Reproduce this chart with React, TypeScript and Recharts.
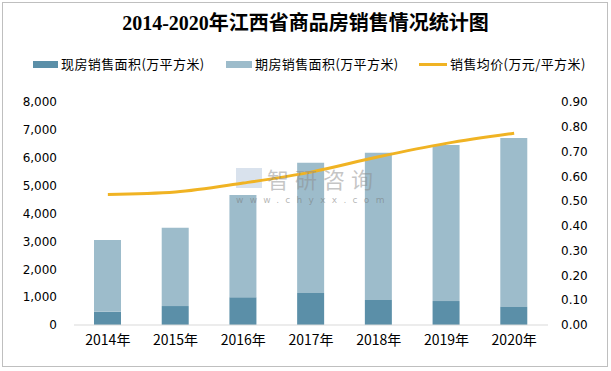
import { ComposedChart, Bar, Line, XAxis, YAxis } from "recharts";

/* ─── Data ──────────────────────────────────────────────────── */

const years = ["2014年", "2015年", "2016年", "2017年", "2018年", "2019年", "2020年"];
// 现房销售面积 (万平方米)
const existingArea = [480, 680, 1000, 1150, 900, 860, 650];
// 期房销售面积 (万平方米)
const forwardArea = [2570, 2810, 3660, 4670, 5280, 5600, 6060];
// 销售均价 (万元/平方米)
const avgPrice = [0.527, 0.537, 0.573, 0.617, 0.679, 0.733, 0.774];

const leftTicks = [0, 1000, 2000, 3000, 4000, 5000, 6000, 7000, 8000];
const rightTicks = [0, 0.1, 0.2, 0.3, 0.4, 0.5, 0.6, 0.7, 0.8, 0.9];

const DARK = "#5B8FA8";
const LIGHT = "#9DBCCB";
const GOLD = "#F0B323";

const data = years.map((y, i) => ({
  year: y,
  existing: existingArea[i],
  forward: forwardArea[i],
  price: avgPrice[i],
}));

const cjk = '"Noto Sans CJK SC", "Noto Sans", sans-serif';
const num = '"DejaVu Sans", Verdana, sans-serif';

/* ─── Component ─────────────────────────────────────────────── */

export default function App() {
  return (
    <div
      style={{
        position: "fixed",
        left: 0,
        top: 0,
        width: 611,
        height: 371,
        background: "#fff",
        overflow: "hidden",
      }}
    >
      {/* frame */}
      <div
        style={{
          position: "absolute",
          left: 2,
          top: 2,
          width: 604,
          height: 363,
          border: "1px solid #BFBFBF",
        }}
      />

      {/* title */}
      <div
        style={{
          position: "absolute",
          top: 9,
          left: 0,
          width: 611,
          textAlign: "center",
          fontFamily: '"Liberation Serif", "Noto Sans CJK SC", serif',
          fontWeight: "bold",
          fontSize: 20,
          color: "#000",
          lineHeight: "28px",
        }}
      >
        2014-2020年江西省商品房销售情况统计图
      </div>

      {/* legend */}
      <div
        style={{
          position: "absolute",
          top: 55,
          left: 0,
          width: 611,
          height: 18,
          fontFamily: cjk,
          fontSize: 13,
          color: "#000",
          lineHeight: "18px",
        }}
      >
        <div style={{ position: "absolute", left: 33, top: 6, width: 25, height: 7, background: DARK }} />
        <span style={{ position: "absolute", left: 61, letterSpacing: 0.4 }}>现房销售面积(万平方米)</span>
        <div style={{ position: "absolute", left: 226, top: 6, width: 26, height: 7, background: LIGHT }} />
        <span style={{ position: "absolute", left: 255, letterSpacing: 0.4 }}>期房销售面积(万平方米)</span>
        <div style={{ position: "absolute", left: 419, top: 8, width: 28, height: 3, background: GOLD }} />
        <span style={{ position: "absolute", left: 450, letterSpacing: 0.4 }}>销售均价(万元/平方米)</span>
      </div>

      {/* watermark logo block (under the chart so the line runs over it) */}
      <div
        style={{
          position: "absolute",
          left: 236,
          top: 168,
          width: 26,
          height: 20,
          background: "rgba(170,190,215,0.45)",
          pointerEvents: "none",
        }}
      />

      <div style={{ position: "absolute", left: 0, top: 0 }}>
        <ComposedChart
          width={611}
          height={371}
          data={data}
          margin={{ top: 102, right: 13, bottom: 16, left: 20 }}
          barCategoryGap="60%"
        >
          <XAxis
            dataKey="year"
            axisLine={{ stroke: "#D9D9D9" }}
            tickLine={false}
            tickSize={0}
            tickMargin={10}
            height={30}
            tick={{ fill: "#000", fontSize: 14, fontFamily: cjk }}
          />
          <YAxis
            yAxisId="left"
            domain={[0, 8000]}
            ticks={leftTicks}
            width={54}
            axisLine={false}
            tickLine={false}
            tickSize={0}
            tickMargin={17}
            tick={{ fill: "#000", fontSize: 12, fontFamily: num }}
            tickFormatter={(v: number) => v.toLocaleString("en-US")}
          />
          <YAxis
            yAxisId="right"
            orientation="right"
            domain={[0, 0.9]}
            ticks={rightTicks}
            width={50}
            axisLine={false}
            tickLine={false}
            tickSize={0}
            tickMargin={13}
            tick={{ fill: "#000", fontSize: 12, fontFamily: num }}
            tickFormatter={(v: number) => v.toFixed(2)}
          />
          <Bar
            yAxisId="left"
            dataKey="existing"
            stackId="a"
            fill={DARK}
            barSize={27}
            isAnimationActive={false}
          />
          <Bar
            yAxisId="left"
            dataKey="forward"
            stackId="a"
            fill={LIGHT}
            barSize={27}
            isAnimationActive={false}
          />
          <Line
            yAxisId="right"
            type="monotone"
            dataKey="price"
            stroke={GOLD}
            strokeWidth={3}
            dot={false}
            isAnimationActive={false}
          />
        </ComposedChart>
      </div>

      <div
        style={{
          position: "absolute",
          left: 267,
          top: 167,
          fontFamily: cjk,
          fontSize: 22,
          color: "rgba(140,140,140,0.5)",
          letterSpacing: 6,
          lineHeight: "22px",
          pointerEvents: "none",
        }}
      >
        智研咨询
      </div>
      <div
        style={{
          position: "absolute",
          left: 236,
          top: 195,
          fontFamily: num,
          fontSize: 9,
          color: "rgba(120,120,120,0.55)",
          letterSpacing: 6.3,
          lineHeight: "10px",
          pointerEvents: "none",
        }}
      >
        www.chyxx.com
      </div>
    </div>
  );
}
